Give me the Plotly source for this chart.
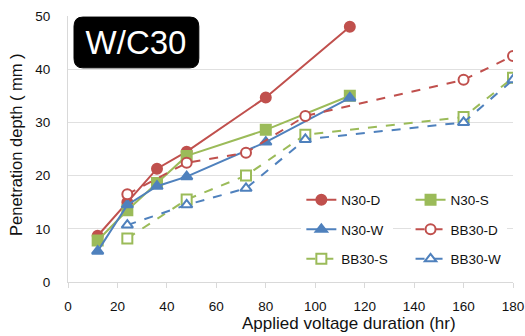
import plotly.graph_objects as go

hours_n = [12, 24, 36, 48, 80, 114]
n30_d = [8.7, 15.0, 21.3, 24.5, 34.7, 48.0]
n30_s = [7.8, 13.5, 18.6, 23.7, 28.6, 35.0]
n30_w = [5.8, 14.5, 18.0, 19.8, 26.3, 34.6]

hours_bb = [24, 48, 72, 96, 160, 180]
bb30_d = [16.5, 22.4, 24.3, 31.2, 38.0, 42.5]
bb30_s = [8.2, 15.5, 20.0, 27.7, 31.0, 38.4]
bb30_w = [10.7, 14.5, 17.6, 26.8, 30.0, 38.0]

RED = "#C0504D"
GREEN = "#9BBB59"
BLUE = "#4F81BD"

fig = go.Figure()

def add(x, y, name, color, symbol, hollow, dash, legend, group):
    fig.add_trace(go.Scatter(
        x=x, y=y, name=name, mode="lines+markers",
        line=dict(color=color, width=2, dash=dash),
        marker=dict(symbol=symbol, size=10,
                    color="white" if hollow else color,
                    line=dict(color=color, width=2)),
        legend=legend, legendgroup=group,
    ))

add(hours_n, n30_d, "N30-D", RED, "circle", False, "solid", "legend", "a")
add(hours_n, n30_s, "N30-S", GREEN, "square", False, "solid", "legend2", "d")
add(hours_n, n30_w, "N30-W", BLUE, "triangle-up", False, "solid", "legend", "b")
add(hours_bb, bb30_d, "BB30-D", RED, "circle", True, "dash", "legend2", "e")
add(hours_bb, bb30_s, "BB30-S", GREEN, "square", True, "dash", "legend", "c")
add(hours_bb, bb30_w, "BB30-W", BLUE, "triangle-up", True, "dash", "legend2", "f")

font = "Liberation Sans, Arial, sans-serif"
TXT = "#111"
legend_common = dict(font=dict(family=font, size=13.5, color=TXT),
                     bgcolor="white", tracegroupgap=9,
                     xref="container", yref="container",
                     xanchor="left", yanchor="top", itemwidth=30)

fig.update_layout(
    width=525, height=336,
    margin=dict(l=68, r=12, t=16, b=54, autoexpand=False),
    paper_bgcolor="white", plot_bgcolor="white",
    font=dict(family=font, size=13, color=TXT),
    xaxis=dict(range=[0, 180], dtick=20, showgrid=False,
               showline=True, linecolor="#D9D9D9", linewidth=1,
               ticks="outside", tickcolor="#D9D9D9", ticklen=5,
               ticklabelstandoff=7,
               tickfont=dict(size=13.5), zeroline=False),
    yaxis=dict(range=[0, 50], dtick=10, showgrid=True, gridcolor="#E0E0E0",
               showline=True, linecolor="#D9D9D9", linewidth=1, zeroline=False,
               tickfont=dict(size=13.5), ticks="", ticklabelstandoff=14),
    legend=dict(x=0.574, y=0.451, **legend_common),
    legend2=dict(x=0.782, y=0.451, **legend_common),
    showlegend=True,
)

# axis titles (placed as in the reference)
fig.add_annotation(x=0.631, y=0, xref="paper", yref="paper",
                   xanchor="center", yanchor="middle", yshift=-41,
                   text="Applied voltage duration (hr)", showarrow=False,
                   font=dict(family=font, size=17, color=TXT))
fig.add_annotation(x=-0.117, y=0.5, xref="paper", yref="paper",
                   xanchor="center", yanchor="middle", yshift=5,
                   textangle=-90,
                   text="Penetration depth ( mm )", showarrow=False,
                   font=dict(family=font, size=16.5, color=TXT))

# rounded black label box
x0, x1, y0, y1 = 0.0135, 0.294, 0.805, 0.996
rx, ry = 0.02, 0.035
path = (f"M {x0+rx},{y0} L {x1-rx},{y0} Q {x1},{y0} {x1},{y0+ry} "
        f"L {x1},{y1-ry} Q {x1},{y1} {x1-rx},{y1} L {x0+rx},{y1} "
        f"Q {x0},{y1} {x0},{y1-ry} L {x0},{y0+ry} Q {x0},{y0} {x0+rx},{y0} Z")
fig.add_shape(type="path", path=path, xref="paper", yref="paper", layer="above",
              fillcolor="black", line=dict(color="black", width=1))
fig.add_annotation(x=(x0+x1)/2, y=(y0+y1)/2, xref="paper", yref="paper",
                   xanchor="center", yanchor="middle", width=120, height=46,
                   align="center", valign="middle",
                   text="W/C30", showarrow=False,
                   font=dict(family=font, size=33, color="white"))

fig.write_html("out.html", config={"displayModeBar": False},
               post_script="document.body.style.margin='0';document.body.style.overflow='hidden';")
